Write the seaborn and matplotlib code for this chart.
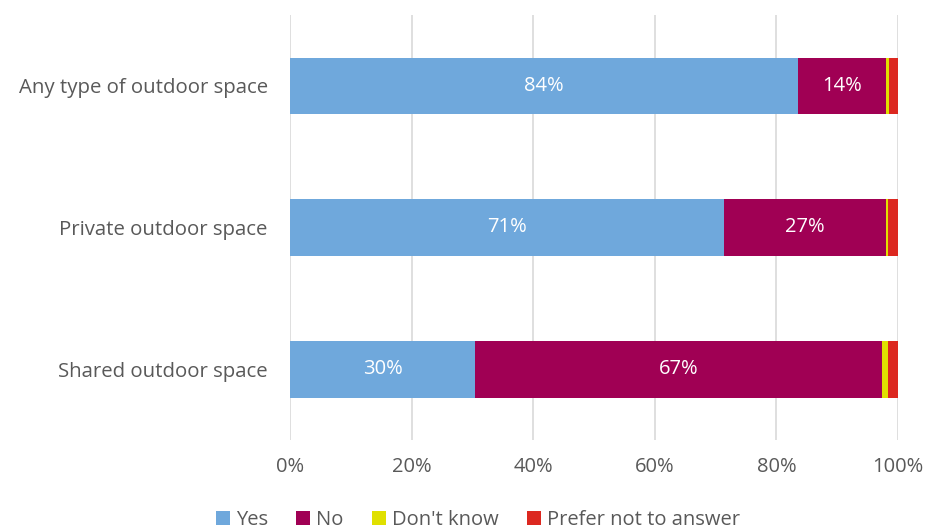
import matplotlib
matplotlib.use("Agg")
import matplotlib.pyplot as plt
from matplotlib.patches import Patch
from matplotlib.ticker import FuncFormatter
import numpy as np
import pandas as pd
import seaborn as sns

categories = ["Any type of outdoor space", "Private outdoor space", "Shared outdoor space"]
yes = [83.6, 71.4, 30.5]
no = [14.4, 26.6, 66.9]
dont_know = [0.6, 0.4, 1.0]
prefer_not = [1.4, 1.6, 1.6]

series_names = ["Yes", "No", "Don't know", "Prefer not to answer"]
colors = ["#6FA8DC", "#A00054", "#E0E000", "#DC2820"]

sns.set_theme(style="white")
plt.rcParams["font.family"] = ["Open Sans", "DejaVu Sans"]
text_color = "#595959"

df = pd.DataFrame({
    "category": categories,
    "Yes": yes,
    "No": no,
    "Don't know": dont_know,
    "Prefer not to answer": prefer_not,
})
cum = df[series_names].cumsum(axis=1)

fig = plt.figure(figsize=(9.27, 5.30), dpi=100)
ax = fig.add_axes([290 / 927, 1 - 440 / 530, (898 - 290) / 927, (440 - 15) / 530])

# Stacked bars: draw cumulative totals from the outermost segment inward
for name, color in reversed(list(zip(series_names, colors))):
    sns.barplot(x=cum[name], y=df["category"], orient="h", color=color,
                width=0.4, ax=ax, saturation=1, linewidth=0)

# Value labels for the two large segments
for i in range(len(categories)):
    ax.text(yes[i] / 2, i, f"{yes[i]:.0f}%", ha="center", va="center",
            color="white", fontsize=14.5)
    ax.text(yes[i] + no[i] / 2, i, f"{no[i]:.0f}%", ha="center", va="center",
            color="white", fontsize=14.5)

ax.set_xlim(0, 100)
ax.set_ylim(2.5, -0.5)
ax.set_xticks(np.arange(0, 101, 20))
ax.xaxis.set_major_formatter(FuncFormatter(lambda v, p: f"{v:.0f}%"))
ax.grid(axis="x", color="#D9D9D9", linewidth=1.2)
ax.set_axisbelow(True)
for s in ax.spines.values():
    s.set_visible(False)
ax.set_xlabel("")
ax.set_ylabel("")
ax.tick_params(axis="x", length=0, pad=12, labelsize=14.5, labelcolor=text_color)
ax.tick_params(axis="y", length=0, pad=16, labelsize=14.7, labelcolor=text_color)

handles = [Patch(facecolor=c, edgecolor="none") for c in colors]
fig.legend(handles, series_names, loc="lower center", bbox_to_anchor=(478 / 927, -0.034),
           ncol=4, frameon=False, fontsize=14.5, labelcolor=text_color,
           handlelength=0.7, handleheight=0.7, handletextpad=0.3, columnspacing=1.4)

fig.savefig("out.png", dpi=100)
